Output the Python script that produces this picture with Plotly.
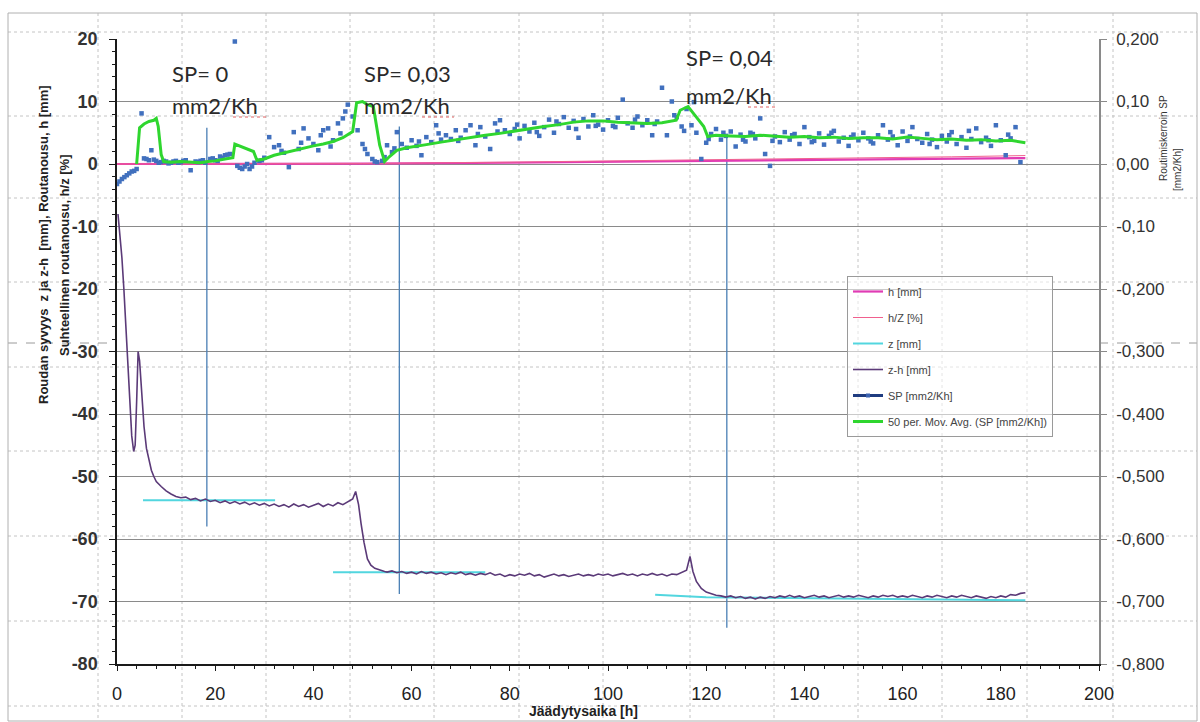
import plotly.graph_objects as go

# ---------------- data ----------------
h_t = [0, 50, 80, 110, 140, 170, 185]
h_v = [0.0, 0.05, 0.2, 0.4, 0.6, 0.8, 0.95]
hz_t = [0, 50, 80, 110, 140, 170, 185]
hz_v = [0.0, 0.07, 0.3, 0.55, 0.85, 1.15, 1.35]

z_t = [5.3, 32.2, None, 44.0, 75.0, None, 109.6, 120.0, 185.0]
z_v = [-53.8, -53.8, None, -65.3, -65.3, None, -68.9, -69.3, -69.8]

zh_t = [0.2, 0.6, 1.0, 1.4, 1.8, 2.2, 2.6, 3.0, 3.4, 3.7, 4.0, 4.3, 4.6, 5.0, 5.5, 6.0, 6.5, 7.0, 7.5, 8.0,
        9.0, 10.0, 11.0, 12.0,
        13, 14, 15, 16, 17, 18, 19, 20, 21, 22, 23, 24, 25, 26, 27, 28, 29, 30, 31, 32, 33, 34, 35, 36,
        37, 38, 39, 40, 41, 42, 43, 44, 45, 46, 47, 48, 48.6, 49.2, 49.7, 50.3, 51.0, 51.7, 52.5, 53.5, 54.5,
        55, 56, 57, 58, 59, 60, 61, 62, 63, 64, 65, 66, 67, 68, 69, 70, 71, 72, 73, 74, 75, 76, 77, 78, 79,
        80, 81, 82, 83, 84, 85, 86, 87, 88, 89, 90, 91, 92, 93, 94, 95, 96, 97, 98, 99, 100, 101, 102, 103,
        104, 105, 106, 107, 108, 109, 110, 111, 112, 113, 114, 115, 116, 116.7, 117.3, 118, 119, 120, 121,
        122, 123, 124, 125, 126, 127, 128, 129, 130, 131, 132, 133, 134, 135, 136, 137, 138, 139, 140, 141,
        142, 143, 144, 145, 146, 147, 148, 149, 150, 151, 152, 153, 154, 155, 156, 157, 158, 159, 160, 161,
        162, 163, 164, 165, 166, 167, 168, 169, 170, 171, 172, 173, 174, 175, 176, 177, 178, 179, 180, 181,
        182, 183, 184, 185]
zh_v = [-8, -11, -15, -20, -26, -33, -39, -43.5, -46, -45, -38, -30, -31.5, -36, -42, -45.5, -47.5, -49, -50, -50.8,
        -51.6, -52.3, -52.8, -53.2,
        -53.4, -53.3, -53.7, -53.5, -53.9, -53.6, -54.0, -53.8, -54.2, -53.9, -54.3, -54.0, -54.4, -54.1, -54.5,
        -54.2, -54.6, -54.3, -54.7, -54.4, -54.8, -54.5, -54.9, -54.4,
        -54.8, -54.5, -54.9, -54.6, -54.3, -54.8, -54.4, -54.7, -54.2, -54.5, -54.0, -53.6, -52.4, -54.5, -57.5,
        -60.5, -63.2, -64.2, -64.7, -65.0, -65.2,
        -65.3, -65.1, -65.4, -65.2, -65.5, -65.3, -65.6, -65.2, -65.5, -65.3, -65.6, -65.4, -65.7, -65.4, -65.6,
        -65.3, -65.7, -65.5, -65.8, -65.5, -65.7, -65.4, -65.8, -65.6, -66.0,
        -65.7, -65.9, -65.6, -65.8, -65.5, -65.9, -65.7, -66.1, -65.8, -65.6, -65.9, -65.7, -66.0, -65.8, -65.6,
        -65.9, -65.7, -65.9, -65.6, -65.8, -65.6, -65.9, -65.7, -65.5,
        -65.8, -65.6, -65.9, -65.6, -65.8, -65.5, -65.8, -65.6, -65.9, -65.6, -65.7, -65.4, -65.0, -62.8, -65.2,
        -66.8, -67.9, -68.5, -68.8,
        -69.0, -69.1, -69.3, -69.1, -69.4, -69.2, -69.5, -69.3, -69.6, -69.3, -69.5, -69.2, -69.4, -69.1, -69.3,
        -69.0, -69.3, -69.1, -69.4, -69.2,
        -69.0, -69.3, -69.1, -69.4, -69.2, -69.0, -69.3, -69.1, -69.3, -69.0, -69.2, -69.4, -69.1, -69.3, -69.0,
        -69.2, -69.0, -69.3, -69.1, -69.3,
        -69.0, -69.2, -69.4, -69.1, -69.3, -69.0, -69.2, -69.4, -69.1, -69.3, -69.0, -69.2, -69.4, -69.1, -69.3,
        -69.5, -69.2, -69.4, -69.1, -69.3,
        -68.9, -69.0, -68.7, -68.6]

sp_t = [0, 1, 2, 3, 4, 5, 6, 7, 8, 9, 10, 11, 12, 13, 14, 15, 16, 17, 18, 19, 20, 21, 22, 23, 24, 25, 26, 27,
        28, 29, 30, 31, 32, 33, 34, 35, 36, 37, 38, 39, 40, 41, 42, 43, 44, 45, 46, 47, 48, 49, 50, 51, 52, 53,
        54, 55, 56, 57, 58, 59, 60, 61, 62, 63, 64, 65, 66, 67, 68, 69, 70, 71, 72, 73, 74, 75, 76, 77, 78, 79,
        80, 81, 82, 83, 84, 85, 86, 87, 88, 89, 90, 91, 92, 93, 94, 95, 96, 97, 98, 99, 100, 101, 102, 103, 104,
        105, 106, 107, 108, 109, 110, 111, 112, 113, 114, 115, 116, 117, 118, 119, 120, 121, 122, 123, 124, 125,
        126, 127, 128, 129, 130, 131, 132, 133, 134, 135, 136, 137, 138, 139, 140, 141, 142, 143, 144, 145, 146,
        147, 148, 149, 150, 151, 152, 153, 154, 155, 156, 157, 158, 159, 160, 161, 162, 163, 164, 165, 166, 167,
        168, 169, 170, 171, 172, 173, 174, 175, 176, 177, 178, 179, 180, 181, 182, 183, 184,
        0.5, 1.5, 2.5, 3.5, 5.5, 6.5, 7.5, 8.5, 9.5, 10.5, 11.5, 12.5, 13.5, 16.5, 17.5, 19.5, 20.5, 21.5, 22.5,
        24.5, 25.5, 26.5, 27.5, 29.5, 33.5, 37.5, 41.5, 43.5, 45.5, 46.5, 50.5, 52.5, 54.5, 56.5, 61.5, 65.5,
        69.5, 73.5, 77.5, 81.5, 85.5, 89.5, 93.5, 97.5, 101.5, 105.5, 109.5, 113.5, 115.5, 117.5, 120.5, 123.5,
        127.5, 129.5, 133.5, 137.5, 141.5, 145.5, 149.5, 153.5, 157.5, 161.5, 165.5, 169.5, 173.5, 177.5, 181.5]
sp_v = [-0.032, -0.024, -0.018, -0.012, -0.008, 0.081, 0.008, 0.022, 0.005, 0.003, 0.004, 0.002, 0.005, 0.003,
        0.006, -0.010, 0.004, 0.005, 0.002, 0.008, 0.006, 0.012, 0.014, 0.016, 0.196, -0.006, -0.004, -0.008,
        0.002, 0.005, 0.010, 0.043, 0.027, 0.030, 0.018, -0.005, 0.051, 0.024, 0.057, 0.041, 0.032, 0.022, 0.054,
        0.057, 0.038, 0.065, 0.073, 0.095, 0.076, 0.054, 0.032, 0.016, 0.008, 0.003, 0.005, 0.030, 0.019, 0.051,
        0.032, 0.026, 0.038, 0.029, 0.014, 0.043, 0.035, 0.062, 0.039, 0.046, 0.040, 0.054, 0.042, 0.054, 0.062,
        0.030, 0.059, 0.044, 0.024, 0.065, 0.070, 0.054, 0.048, 0.056, 0.041, 0.061, 0.052, 0.066, 0.045, 0.059,
        0.071, 0.050, 0.064, 0.075, 0.058, 0.069, 0.042, 0.072, 0.060, 0.078, 0.063, 0.055, 0.070, 0.061, 0.074,
        0.103, 0.065, 0.058, 0.076, 0.062, 0.070, 0.046, 0.068, 0.122, 0.046, 0.100, 0.075, 0.060, 0.088, 0.062,
        0.050, 0.008, 0.034, 0.048, 0.056, 0.039, 0.045, 0.052, 0.028, 0.047, 0.036, 0.050, 0.041, 0.073, 0.016,
        -0.003, 0.044, 0.035, 0.051, 0.039, 0.048, 0.032, 0.059, 0.043, 0.037, 0.049, 0.031, 0.045, 0.053, 0.036,
        0.042, 0.029, 0.047, 0.038, 0.050, 0.041, 0.033, 0.046, 0.062, 0.039, 0.044, 0.030, 0.052, 0.037, 0.059,
        0.040, 0.034, 0.048, 0.039, 0.027, 0.045, 0.036, 0.051, 0.032, 0.043, 0.026, 0.040, 0.057, 0.035, 0.042,
        0.029, 0.062, 0.038, 0.014, 0.041, 0.059, 0.003,
        -0.028, -0.021, -0.015, -0.011, 0.009, 0.006, 0.007, 0.002, 0.005, 0.001, 0.004, 0.002, 0.005, 0.003,
        0.006, 0.009, 0.005, 0.010, 0.015, -0.003, -0.008, 0.000, -0.004, 0.006, 0.021, 0.034, 0.046, 0.028,
        0.049, 0.084, 0.024, 0.004, 0.011, 0.025, 0.036, 0.049, 0.037, 0.048, 0.052, 0.063, 0.051, 0.068, 0.056,
        0.061, 0.059, 0.071, 0.064, 0.078, 0.053, 0.099, 0.040, 0.050, 0.039, 0.048, 0.037, 0.046, 0.035, 0.050,
        0.043, 0.036, 0.051, 0.044, 0.032, 0.046, 0.053, 0.038, 0.047]

ma_t = [4.0, 4.6, 5.5, 6.5, 7.5, 8.0, 8.4, 9.0, 9.5, 11, 13, 15, 17, 18.5, 20, 22, 23.6, 24.0, 25, 26.5, 27.8,
        28.5, 30, 32, 34, 36, 38, 40, 42, 44, 46, 48, 48.8, 50, 51, 52.2, 53.5, 54.5, 55.5, 57, 59, 61, 63, 66,
        69, 72, 75, 78, 81, 84, 87, 90, 93, 96, 99, 102, 105, 108, 111, 113.9, 114.7, 116.3, 118, 119.5, 120.3,
        122, 125, 128, 131, 134, 137, 140, 143, 146, 149, 152, 155, 158, 161, 164, 167, 170, 173, 176, 179, 182,
        185]
ma_v = [0.000, 0.058, 0.064, 0.068, 0.070, 0.073, 0.060, 0.015, 0.004, 0.003, 0.004, 0.003, 0.002, 0.004,
        0.005, 0.008, 0.010, 0.032, 0.029, 0.025, 0.020, 0.006, 0.008, 0.014, 0.018, 0.022, 0.025, 0.029, 0.032,
        0.036, 0.042, 0.052, 0.098, 0.100, 0.095, 0.092, 0.030, 0.004, 0.012, 0.022, 0.026, 0.029, 0.031, 0.035,
        0.039, 0.042, 0.046, 0.049, 0.053, 0.057, 0.060, 0.063, 0.067, 0.069, 0.069, 0.067, 0.066, 0.065, 0.066,
        0.070, 0.086, 0.092, 0.075, 0.060, 0.044, 0.046, 0.045, 0.044, 0.046, 0.045, 0.043, 0.044, 0.042, 0.043,
        0.041, 0.042, 0.042, 0.040, 0.043, 0.041, 0.039, 0.040, 0.038, 0.039, 0.037, 0.038, 0.034]

vl_t = [18.3, 57.5, 124.2]
vl_top = [5.8, 6.0, 4.3]
vl_bot = [-58.0, -68.8, -74.2]

x_ticks = [0, 20, 40, 60, 80, 100, 120, 140, 160, 180, 200]
y_ticks = [20, 10, 0, -10, -20, -30, -40, -50, -60, -70, -80]
y_text = ["20", "10", "0", "-10", "-20", "-30", "-40", "-50", "-60", "-70", "-80"]
y2_ticks = [0.2, 0.1, 0.0, -0.1, -0.2, -0.3, -0.4, -0.5, -0.6, -0.7, -0.8]
y2_text = ["0,200", "0,10", "0,00", "-0,10", "-0,200", "-0,300", "-0,400", "-0,500", "-0,600", "-0,700", "-0,800"]

sp_notes = [("SP= 0", "mm2/Kh"), ("SP= 0,03", "mm2/Kh"), ("SP= 0,04", "mm2/Kh")]

# ---------------- layout helpers (pixel -> paper) ----------------
L, R, T, B = 117, 1099, 39, 664
def px(x):
    return (x - L) / (R - L)
def py(y):
    return (B - y) / (B - T)

fig = go.Figure()

# vertical marker lines
vx, vy = [], []
for t, a, b in zip(vl_t, vl_top, vl_bot):
    vx += [t, t, None]
    vy += [a, b, None]
fig.add_trace(go.Scatter(x=vx, y=vy, mode="lines", line=dict(color="#4a7fb5", width=1.3),
                         showlegend=False, hoverinfo="skip"))

fig.add_trace(go.Scatter(x=h_t, y=h_v, name="h [mm]", mode="lines", legendgroup="g1",
                         line=dict(color="#e03cb4", width=2.2)))
fig.add_trace(go.Scatter(x=hz_t, y=hz_v, name="h/Z [%]", mode="lines", legendgroup="g2",
                         line=dict(color="#f0608e", width=1)))
fig.add_trace(go.Scatter(x=z_t, y=z_v, name="z [mm]", mode="lines", legendgroup="g3",
                         line=dict(color="#52d6df", width=2)))
fig.add_trace(go.Scatter(x=zh_t, y=zh_v, name="z-h [mm]", mode="lines", legendgroup="g4",
                         line=dict(color="#5b3a78", width=1.6)))
fig.add_trace(go.Scatter(x=sp_t, y=sp_v, yaxis="y2", mode="markers", showlegend=False,
                         marker=dict(symbol="square", size=4.5, color="#4170be")))
fig.add_trace(go.Scatter(x=[None], y=[None], yaxis="y2", name="SP [mm2/Kh]", mode="lines+markers",
                         legendgroup="g5", line=dict(color="#1f3c80", width=3),
                         marker=dict(symbol="square", size=4, color="#3a62b0")))
fig.add_trace(go.Scatter(x=ma_t, y=ma_v, yaxis="y2", name="50 per. Mov. Avg. (SP [mm2/Kh])", mode="lines",
                         legendgroup="g6", line=dict(color="#2fd62f", width=3)))

# ---------------- decoration shapes (spreadsheet grid, frame) ----------------
shapes = []
cols = [98, 182, 266, 350, 434, 519, 603, 690, 774, 858, 942, 1027, 1113]
rows = [32, 116, 198, 282, 367, 451, 536, 621, 706]
for c in cols:
    shapes.append(dict(type="line", xref="paper", yref="paper", x0=px(c), x1=px(c), y0=py(13), y1=py(721),
                       line=dict(color="#c4c4c4", width=1, dash="dot"), layer="below"))
for r in rows:
    shapes.append(dict(type="line", xref="paper", yref="paper", x0=px(8), x1=px(1197), y0=py(r), y1=py(r),
                       line=dict(color="#c4c4c4", width=1, dash="dot"), layer="below"))
for a, b in [(8, 117), (1099, 1197)]:
    shapes.append(dict(type="line", xref="paper", yref="paper", x0=px(a), x1=px(b), y0=py(343), y1=py(343),
                       line=dict(color="#9a9a9a", width=1, dash="dash"), layer="below"))
shapes.append(dict(type="rect", xref="paper", yref="paper", x0=px(8), x1=px(1197), y0=py(13), y1=py(721),
                   line=dict(color="#b0b0b0", width=1), layer="below"))
# red spell-check underlines
for a, b, y in [(233, 266, 117), (422, 454, 117), (748, 778, 107)]:
    shapes.append(dict(type="line", xref="paper", yref="paper", x0=px(a), x1=px(b), y0=py(y), y1=py(y),
                       line=dict(color="#e06060", width=1, dash="dot")))

# ---------------- annotations ----------------
ann = []
note_pos = [(170, 73, 106), (362, 73, 106), (684, 57, 96)]
for (l1, l2), (x, y1, y2) in zip(sp_notes, note_pos):
    for txt, yy in [(l1, y1), (l2, y2)]:
        ann.append(dict(text=txt, xref="paper", yref="paper", x=px(x), y=py(yy), xanchor="left",
                        yanchor="middle", showarrow=False, font=dict(family="Lato", size=22, color="#2a2a2a")))
ann.append(dict(text="<b>Roudan syvyys  z ja z-h  [mm], Routanousu, h [mm]</b>", textangle=-90,
                xref="paper", yref="paper", x=px(43), y=py(245), xanchor="center", yanchor="middle",
                showarrow=False, font=dict(family="Arial", size=13, color="#222")))
ann.append(dict(text="<b>Suhteellinen routanousu, h/z [%]</b>", textangle=-90,
                xref="paper", yref="paper", x=px(64), y=py(255), xanchor="center", yanchor="middle",
                showarrow=False, font=dict(family="Arial", size=13, color="#222")))
ann.append(dict(text="Routimiskerroin SP", textangle=-90, xref="paper", yref="paper", x=px(1163), y=py(138),
                xanchor="center", yanchor="middle", showarrow=False,
                font=dict(family="Arial", size=10, color="#333")))
ann.append(dict(text="[mm2/Kh]", textangle=-90, xref="paper", yref="paper", x=px(1177), y=py(170),
                xanchor="center", yanchor="middle", showarrow=False,
                font=dict(family="Arial", size=10, color="#333")))
ann.append(dict(text="<b>Jäädytysaika [h]</b>", xref="paper", yref="paper", x=px(583), y=py(711),
                xanchor="center", yanchor="middle", showarrow=False,
                font=dict(family="Arial", size=14, color="#222")))

fig.update_layout(
    width=1200, height=722, autosize=False,
    margin=dict(l=L, r=1200 - R, t=T, b=722 - B),
    paper_bgcolor="white", plot_bgcolor="rgba(0,0,0,0)",
    font=dict(family="Arial", color="#222"),
    shapes=shapes, annotations=ann,
    xaxis=dict(range=[0, 200], tickvals=x_ticks, showgrid=False, zeroline=False,
               showline=True, linecolor="#1a1a1a", linewidth=1.5,
               ticks="outside", ticklen=5, tickcolor="#1a1a1a", tickwidth=1.2,
               minor=dict(dtick=4, tick0=0, ticks="outside", ticklen=3, tickcolor="#1a1a1a", showgrid=False),
               tickfont=dict(family="Arial", size=18, color="#222"), ticklabelstandoff=8),
    yaxis=dict(range=[-80, 20], tickvals=y_ticks, ticktext=["<b>%s</b>" % s for s in y_text],
               showgrid=True, gridcolor="#8a8a8a", gridwidth=1.2,
               zeroline=False, showline=True, linecolor="#1a1a1a", linewidth=1.5,
               ticks="outside", ticklen=6, tickcolor="#1a1a1a", tickwidth=1.2,
               minor=dict(dtick=2, tick0=0, ticks="outside", ticklen=3, tickcolor="#1a1a1a", showgrid=False),
               tickfont=dict(family="Arial", size=18, color="#333"), ticklabelstandoff=8),
    yaxis2=dict(range=[-0.8, 0.2], overlaying="y", side="right", tickvals=y2_ticks, ticktext=y2_text,
                showgrid=False, zeroline=False, showline=True, linecolor="#8a8a8a", linewidth=1.5,
                ticks="outside", ticklen=6, tickcolor="#8a8a8a",
                tickfont=dict(family="Arial", size=17, color="#333"), ticklabelstandoff=6),
    legend=dict(x=px(847), y=py(276), xanchor="left", yanchor="top",
                bgcolor="rgba(255,255,255,0.55)", bordercolor="#9a9a9a", borderwidth=1,
                font=dict(family="Arial", size=11, color="#444"), tracegroupgap=7,
                itemwidth=30),
)

fig.write_html("out.html")
